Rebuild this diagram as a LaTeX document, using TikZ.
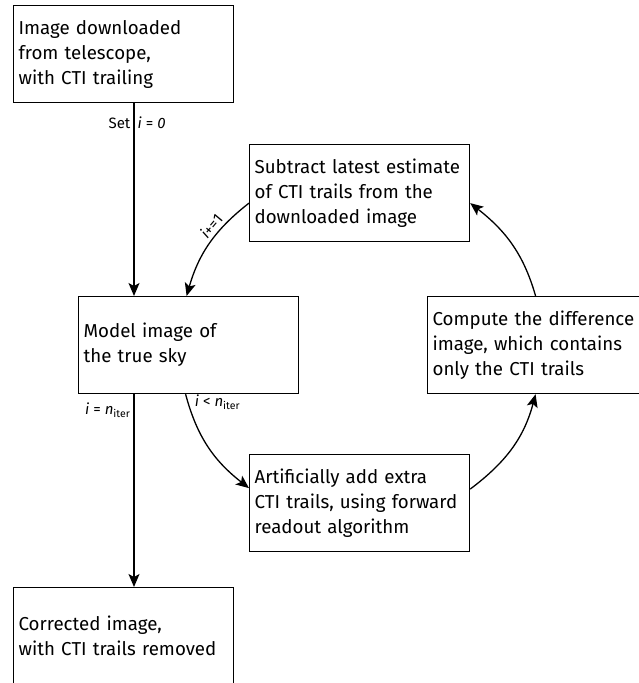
\documentclass[tikz,border=0pt]{standalone}
\usepackage{fontspec}
\setmainfont{Fira Sans}
\usetikzlibrary{arrows.meta}
\begin{document}
\begin{tikzpicture}[x=1pt,y=1pt,
  box/.style={draw, line width=1.2pt, minimum width=220pt, minimum height=97pt,
    text width=210pt, align=left, inner xsep=5pt, inner ysep=6pt,
    font=\fontsize{18.7}{25}\selectfont, anchor=north west},
  conn/.style={line width=1.3pt, -{Stealth[length=13pt,width=11pt,inset=3pt]}},
  lbl/.style={font=\fontsize{15}{17}\selectfont, inner sep=0pt}]
\useasboundingbox (0,0) rectangle (639,-683);
\node[box] (top) at (13,-5) {Image downloaded\\from telescope,\\with CTI trailing};
\node[box] (sub) at (249,-144) {Subtract latest estimate\\of CTI trails from the\\downloaded image};
\node[box] (model) at (78,-296) {Model image of\\the true sky};
\node[box] (comp) at (427,-296) {\mbox{Compute the difference}\\image, which contains\\only the CTI trails};
\node[box] (art) at (249,-454) {Artificially add extra\\CTI trails, using forward\\readout algorithm};
\node[box] (corr) at (13,-587) {Corrected image,\\with CTI trails removed};
\coordinate (xa) at (134,0);

\draw[conn] (top.south -| xa) -- 
  node[lbl, pos=0.129, anchor=base east, xshift=-3pt] {Set}
  node[lbl, pos=0.129, anchor=base west, xshift=3pt] {\textit{i} = \textit{0}}
  (model.north -| xa);
\draw[conn] (model.south -| xa) --
  node[lbl, pos=0.103, anchor=base east, xshift=-3pt] {\textit{i} = \textit{n}\textsubscript{iter}}
  (corr.north -| xa);

\draw[conn] ([yshift=-10pt]sub.west) to[out=218, in=74]
  node[lbl, pos=0.36, sloped, above, yshift=3pt] {\textit{i}+=1}
  ([xshift=-2pt]model.north);
\draw[conn] ([xshift=-3pt]model.south) to[out=285, in=142]
  node[lbl, pos=0.1, anchor=base west, xshift=5pt] {\textit{i} < \textit{n}\textsubscript{iter}}
  ([yshift=15pt]art.west);
\draw[conn] ([yshift=14pt]art.east) to[out=37, in=255] ([xshift=-2pt]comp.south);
\draw[conn] ([xshift=-2pt]comp.north) to[out=106, in=322] ([yshift=-10pt]sub.east);
\end{tikzpicture}
\end{document}
